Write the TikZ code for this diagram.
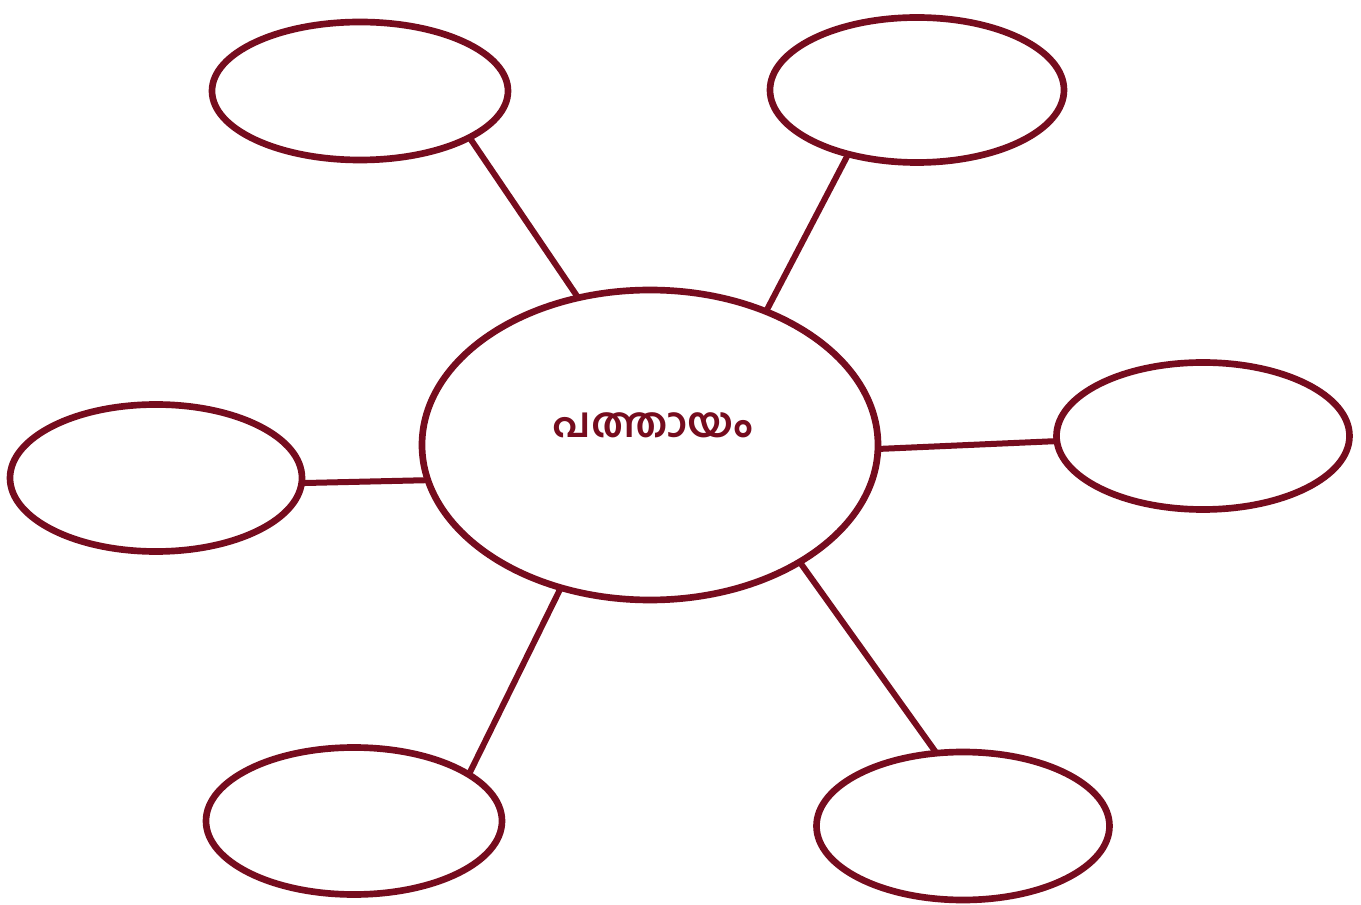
\documentclass[tikz,border=0pt]{standalone}
\usepackage{fontspec}
\newfontfamily\malfont[Script=Malayalam]{Hind Kochi}
\usetikzlibrary{shapes.geometric}
\definecolor{maroon}{RGB}{118,12,30}
\begin{document}
\begin{tikzpicture}[x=0.75pt,y=-0.75pt,
  bubble/.style={ellipse,draw=maroon,line width=5pt,inner sep=0pt,outer sep=0pt},
  link/.style={draw=maroon,line width=4.5pt}]
\useasboundingbox[fill=white] (0,0) rectangle (1361,905);
\node[bubble,minimum width=456*0.75pt,minimum height=310*0.75pt] (c) at (650,445) {};
\node[text=maroon,font=\malfont\bfseries\fontsize{31}{36}\selectfont] (t) at (653,425) {പത്തായം};
\node[bubble,minimum width=296*0.75pt,minimum height=138*0.75pt] (tl) at (360,91) {};
\node[bubble,minimum width=294*0.75pt,minimum height=145*0.75pt] (tr) at (917,90) {};
\node[bubble,minimum width=293*0.75pt,minimum height=147*0.75pt] (r) at (1203,436) {};
\node[bubble,minimum width=292*0.75pt,minimum height=147*0.75pt] (l) at (156,478) {};
\node[bubble,minimum width=296*0.75pt,minimum height=147*0.75pt] (bl) at (354,821) {};
\node[bubble,minimum width=293*0.75pt,minimum height=148*0.75pt] (br) at (963,826) {};
\draw[link] (c.116.4) -- (tl.337.8);
\draw[link] (c.49) -- (tr.223.7);
\draw[link] (c.-1.3) -- (r.182.8);
\draw[link] (c.189.8) -- (l.-2);
\draw[link] (c.238.2) -- (bl.22.1);
\draw[link] (c.-38.7) -- (br.110);
\end{tikzpicture}
\end{document}
